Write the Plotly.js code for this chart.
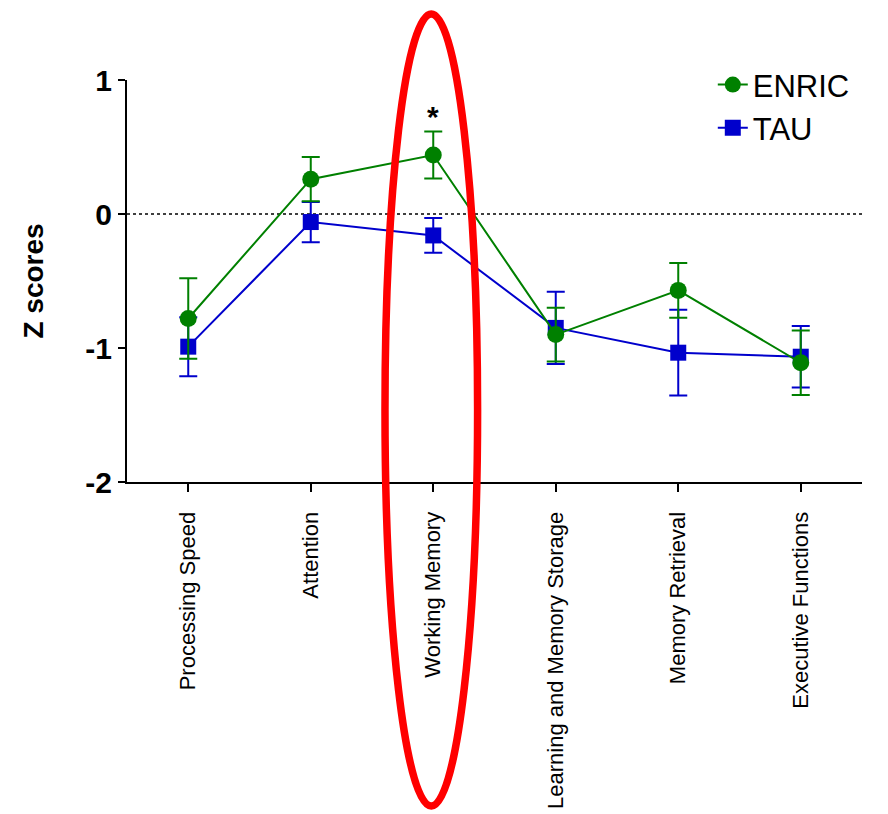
<!DOCTYPE html>
<html>
<head>
<meta charset="utf-8">
<script src="https://cdn.plot.ly/plotly-3.0.1.min.js"></script>
<style>html,body{margin:0;padding:0;background:#fff;}#chart{width:888px;height:814px;}</style>
</head>
<body>
<div id="chart"></div>
<script>
const categories = ['Processing Speed', 'Attention', 'Working Memory', 'Learning and Memory Storage', 'Memory Retrieval', 'Executive Functions'];
const enric = [-0.78, 0.26, 0.44, -0.90, -0.57, -1.11];
const enricErr = [0.30, 0.165, 0.175, 0.20, 0.205, 0.24];
const tau = [-0.99, -0.06, -0.16, -0.85, -1.035, -1.065];
const tauErr = [0.22, 0.15, 0.13, 0.27, 0.32, 0.23];
const yTicks = [-2, -1, 0, 1];

const GREEN = '#008000';
const BLUE = '#0000CC';
const FONT = 'Liberation Sans, Arial, sans-serif';

const traces = [
  {
    type: 'scatter', mode: 'lines+markers', name: 'TAU',
    x: categories, y: tau,
    line: {color: BLUE, width: 2},
    marker: {symbol: 'square', size: 16, color: BLUE},
    error_y: {type: 'data', array: tauErr, visible: true, color: BLUE, thickness: 2, width: 9}
  },
  {
    type: 'scatter', mode: 'lines+markers', name: 'ENRIC',
    x: categories, y: enric,
    line: {color: GREEN, width: 2},
    marker: {symbol: 'circle', size: 17, color: GREEN},
    error_y: {type: 'data', array: enricErr, visible: true, color: GREEN, thickness: 2, width: 9}
  }
];

const layout = {
  width: 888, height: 814,
  margin: {l: 127, r: 26, t: 80, b: 332},
  paper_bgcolor: '#fff', plot_bgcolor: '#fff',
  font: {family: FONT, color: '#000'},
  showlegend: true,
  legend: {
    x: 0.797, xanchor: 'left', y: 1.055, yanchor: 'top',
    traceorder: 'reversed',
    font: {family: FONT, size: 31, color: '#000'},
    bgcolor: 'rgba(0,0,0,0)'
  },
  xaxis: {
    type: 'category', range: [-0.5, 5.5],
    showline: true, linecolor: '#000', linewidth: 2,
    ticks: 'outside', ticklen: 8, tickwidth: 2, tickcolor: '#000',
    tickangle: -90, showgrid: false, zeroline: false,
    tickfont: {family: FONT, size: 22, color: '#000'},
    ticklabelstandoff: 11
  },
  yaxis: {
    range: [-2, 1], tickvals: yTicks, ticktext: yTicks.map(String),
    showline: true, linecolor: '#000', linewidth: 2,
    ticks: 'outside', ticklen: 7, tickwidth: 2, tickcolor: '#000',
    showgrid: false, zeroline: false,
    tickfont: {family: FONT, size: 30, color: '#000', weight: 'bold'},
    title: {text: 'Z scores', font: {family: FONT, size: 28, color: '#000', weight: 'bold'}, standoff: 34}
  },
  shapes: [
    {type: 'line', xref: 'paper', x0: 0, x1: 1, yref: 'y', y0: 0, y1: 0,
     line: {color: '#000', width: 1.5, dash: 'dot'}, layer: 'below'},
    {type: 'circle', xref: 'paper', x0: 0.351, x1: 0.477, yref: 'paper', y0: -0.806, y1: 1.164,
     line: {color: '#FF0000', width: 7.5}, layer: 'above'}
  ],
  annotations: [
    {x: 'Working Memory', y: 0.73, xref: 'x', yref: 'y', text: '*', showarrow: false,
     font: {family: FONT, size: 30, color: '#000', weight: 'bold'}}
  ]
};

Plotly.newPlot('chart', traces, layout, {displayModeBar: false, staticPlot: true});
</script>
</body>
</html>
